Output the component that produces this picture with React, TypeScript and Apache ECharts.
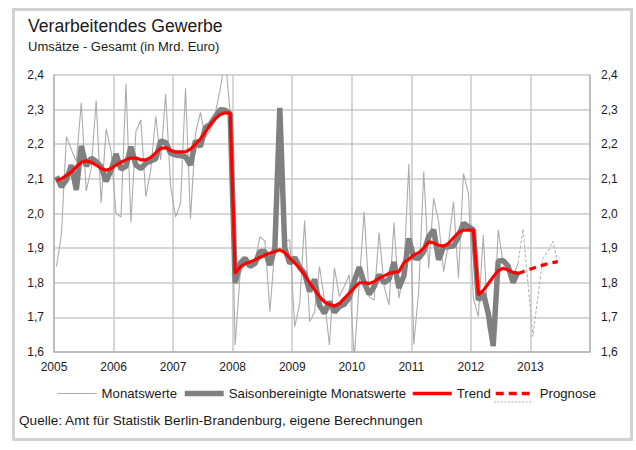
import React, { useEffect, useRef } from "react";
import * as echarts from "echarts";

const FONT = "'Liberation Sans', Arial, sans-serif";

const yearTicks = ["2005", "2006", "2007", "2008", "2009", "2010", "2011", "2012", "2013"];
const yTicks = ["1,6", "1,7", "1,8", "1,9", "2,0", "2,1", "2,2", "2,3", "2,4"];

// Monthly values Jan 2005 .. Oct 2012 (index 0 = Jan 2005)
const monatswerte = [
  1.847, 1.94, 2.222, 2.185, 2.15, 2.32, 2.065, 2.13, 2.326, 2.03, 2.245, 2.18,
  2.0, 1.99, 2.375, 1.974, 2.237, 2.27, 2.049, 2.126, 2.28, 2.155, 2.345, 2.078,
  1.99, 2.03, 2.362, 1.985, 2.23, 2.292, 2.22, 2.24, 2.29, 2.36, 2.45, 2.29,
  1.62, 1.825, 1.866, 1.85, 1.862, 1.933, 1.92, 1.717, 1.9, 2.28, 1.92, 1.924,
  1.673, 1.738, 1.98, 1.688, 1.715, 1.847, 1.75, 1.62, 1.843, 1.76, 1.79, 1.823,
  1.58, 1.8, 2.005, 1.76, 1.75, 1.945, 1.79, 1.736, 1.974, 1.755, 1.837, 2.143,
  1.622, 1.78, 2.121, 1.842, 2.044, 1.976, 1.832, 1.914, 2.034, 1.813, 2.116, 2.059,
  1.755, 1.702, 1.938, 1.664, 1.64, 1.953, 1.856, 1.84, 1.818, 1.856,
];

// Forecast monthly values Oct 2012 .. Jun 2013
const prognoseMonatStart = 93;
const prognoseMonat = [1.856, 1.955, 1.8, 1.645, 1.76, 1.87, 1.89, 1.92, 1.86];

const saisonbereinigt = [
  2.107, 2.077, 2.097, 2.14, 2.068, 2.195, 2.137, 2.16, 2.15, 2.135, 2.093, 2.125,
  2.172, 2.128, 2.136, 2.193, 2.14, 2.13, 2.145, 2.152, 2.158, 2.21, 2.205, 2.174,
  2.169, 2.167, 2.164, 2.14, 2.21, 2.193, 2.248, 2.258, 2.28, 2.3, 2.298, 2.288,
  1.799, 1.856, 1.871, 1.847, 1.856, 1.89, 1.89, 1.851, 1.9, 2.305, 1.9, 1.856,
  1.873, 1.845, 1.827, 1.775, 1.81, 1.735, 1.712, 1.745, 1.715, 1.731, 1.738, 1.757,
  1.805, 1.845, 1.8, 1.767, 1.789, 1.823, 1.8, 1.81, 1.86, 1.785, 1.82, 1.928,
  1.872, 1.871, 1.89, 1.933, 1.953, 1.866, 1.904, 1.904, 1.906, 1.933, 1.972, 1.962,
  1.953, 1.75, 1.77, 1.712, 1.617, 1.862, 1.864, 1.848, 1.8, 1.832,
];

const trend = [
  2.095, 2.1, 2.11, 2.12, 2.135, 2.148, 2.152, 2.148, 2.14, 2.13, 2.125, 2.13,
  2.14, 2.148, 2.155, 2.16, 2.16, 2.155, 2.155, 2.162, 2.175, 2.188, 2.19, 2.182,
  2.178, 2.178, 2.178, 2.186, 2.2, 2.215, 2.235, 2.257, 2.274, 2.286, 2.291, 2.29,
  1.827, 1.845, 1.855, 1.86, 1.866, 1.873, 1.88, 1.885, 1.89, 1.895, 1.887, 1.872,
  1.857, 1.842, 1.823, 1.8, 1.78, 1.76, 1.745, 1.737, 1.733, 1.74, 1.755, 1.77,
  1.785, 1.8, 1.8, 1.798, 1.803, 1.813, 1.82, 1.827, 1.83, 1.832, 1.858, 1.868,
  1.88, 1.887, 1.9, 1.918, 1.915, 1.908, 1.906, 1.914, 1.93, 1.945, 1.952, 1.952,
  1.952, 1.765, 1.778, 1.797, 1.817, 1.835, 1.842, 1.837, 1.83, 1.827,
];

const prognoseStart = 93;
const prognose = [1.827, 1.832, 1.837, 1.842, 1.847, 1.851, 1.855, 1.858, 1.861];

const toPoints = (arr: number[], start = 0) => arr.map((v, i) => [start + i + 0.5, v]);

export default function App() {
  const ref = useRef<HTMLDivElement>(null);
  useEffect(() => {
    if (!ref.current) return;
    const chart = echarts.init(ref.current, undefined, { renderer: "svg" });
    const textColor = "#1a1a1a";
    const legendBase = {
      top: 382,
      itemWidth: 39,
      itemHeight: 14,
      itemGap: 5,
      itemStyle: { opacity: 0 },
      textStyle: { fontFamily: FONT, fontSize: 13.2, color: textColor },
    };
    const yLabel = (margin: number) => ({
      fontFamily: FONT,
      fontSize: 12,
      color: textColor,
      margin,
      formatter: (v: number) => yTicks[Math.round((v - 1.6) * 10)] ?? "",
    });
    chart.setOption({
      animation: false,
      backgroundColor: "#ffffff",
      title: {
        text: "Verarbeitendes Gewerbe",
        subtext: "Umsätze - Gesamt (in Mrd. Euro)",
        left: 23,
        top: 12,
        itemGap: 5,
        textStyle: { fontFamily: FONT, fontSize: 17.6, fontWeight: "normal", color: textColor },
        subtextStyle: { fontFamily: FONT, fontSize: 13, color: textColor },
      },
      grid: { left: 54, right: 46, top: 75, bottom: 98 },
      legend: [
        {
          ...legendBase,
          left: 52,
          data: ["Monatswerte"],
          lineStyle: { color: "#acacac", width: 1.2, type: "solid" },
        },
        {
          ...legendBase,
          left: 177,
          data: ["Saisonbereinigte Monatswerte"],
          lineStyle: { color: "#808080", width: 5.5, type: "solid" },
        },
        {
          ...legendBase,
          left: 406,
          data: ["Trend"],
          lineStyle: { color: "#ff0000", width: 3.5, type: "solid" },
        },
        {
          ...legendBase,
          left: 489,
          data: ["Prognose"],
          lineStyle: { color: "#ff0000", width: 3.5, type: [8, 5] },
        },
      ],
      xAxis: {
        type: "value",
        min: 0,
        max: 108,
        interval: 12,
        axisLine: { show: true, lineStyle: { color: "#b4b4b4", width: 1.5 } },
        axisTick: { show: false },
        axisLabel: {
          fontFamily: FONT,
          fontSize: 12,
          color: textColor,
          margin: 9,
          formatter: (v: number) => yearTicks[Math.round(v / 12)] ?? "",
        },
        splitLine: { show: true, lineStyle: { color: "#c8c8c8", width: 1.5 } },
      },
      yAxis: [
        {
          type: "value",
          min: 1.6,
          max: 2.4,
          interval: 0.1,
          position: "left",
          axisLine: { show: true, lineStyle: { color: "#b4b4b4", width: 1.5 } },
          axisTick: { show: false },
          axisLabel: yLabel(10),
          splitLine: { show: true, lineStyle: { color: "#c8c8c8", width: 1.5 } },
        },
        {
          type: "value",
          min: 1.6,
          max: 2.4,
          interval: 0.1,
          position: "right",
          axisLine: { show: true, lineStyle: { color: "#b4b4b4", width: 1.5 } },
          axisTick: { show: false },
          axisLabel: yLabel(11),
          splitLine: { show: false },
        },
      ],
      series: [
        {
          name: "Monatswerte",
          type: "line",
          data: toPoints(monatswerte),
          symbol: "none",
          lineStyle: { color: "#acacac", width: 1.1 },
          itemStyle: { color: "#acacac" },
          z: 2,
        },
        {
          name: "Prognose Monatswerte",
          type: "line",
          data: toPoints(prognoseMonat, prognoseMonatStart),
          symbol: "none",
          lineStyle: { color: "#acacac", width: 1, type: [3, 2] },
          itemStyle: { color: "#acacac" },
          z: 2,
        },
        {
          name: "Saisonbereinigte Monatswerte",
          type: "line",
          data: toPoints(saisonbereinigt),
          symbol: "none",
          lineStyle: { color: "#808080", width: 5.5 },
          itemStyle: { color: "#808080" },
          z: 3,
        },
        {
          name: "Trend",
          type: "line",
          data: toPoints(trend),
          symbol: "none",
          lineStyle: { color: "#ff0000", width: 3.2 },
          itemStyle: { color: "#ff0000" },
          z: 4,
        },
        {
          name: "Prognose",
          type: "line",
          data: toPoints(prognose, prognoseStart),
          symbol: "none",
          lineStyle: { color: "#ff0000", width: 3.2, type: [7, 5] },
          itemStyle: { color: "#ff0000" },
          z: 4,
        },
      ],
      graphic: [
        {
          type: "rect",
          shape: { x: 13.5, y: 9.5, width: 618, height: 430 },
          style: { fill: "none", stroke: "#d2d2d2", lineWidth: 3 },
          silent: true,
        },
        {
          type: "line",
          shape: { x1: 494, y1: 402, x2: 533, y2: 402 },
          style: { stroke: "#acacac", lineWidth: 1, lineDash: [2, 1.5] },
          silent: true,
        },
        {
          type: "text",
          left: 19,
          top: 413,
          style: {
            text: "Quelle: Amt für Statistik Berlin-Brandenburg, eigene Berechnungen",
            fontFamily: FONT,
            fontSize: 13.6,
            fill: textColor,
          },
        },
      ],
    });
    return () => chart.dispose();
  }, []);
  return (
    <div
      ref={ref}
      style={{ position: "fixed", left: 0, top: 0, width: 636, height: 450 }}
    />
  );
}
